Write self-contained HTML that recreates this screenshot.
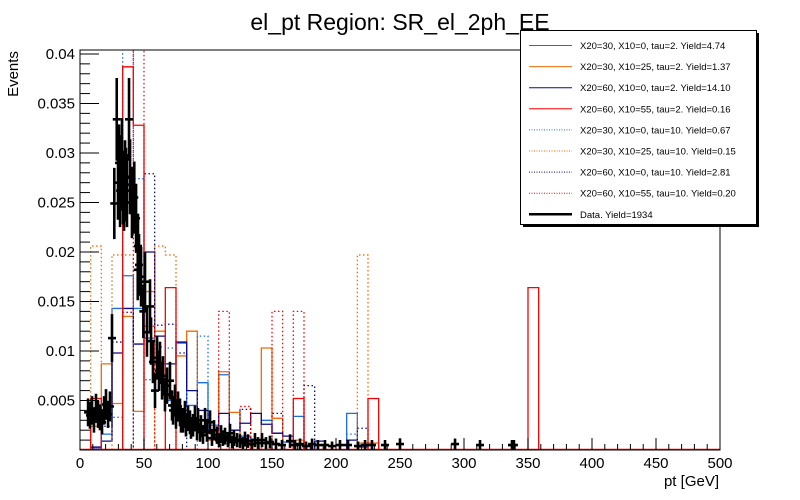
<!DOCTYPE html>
<html><head><meta charset="utf-8"><style>
html,body{margin:0;padding:0;background:#fff;}
svg{display:block;font-family:"Liberation Sans",sans-serif;}
</style></head><body>
<svg id="chart" width="800" height="500" viewBox="0 0 800 500" xmlns="http://www.w3.org/2000/svg">
<rect x="0" y="0" width="800" height="500" fill="#fff"/>
<text x="400" y="30" font-size="23" text-anchor="middle">el_pt Region: SR_el_2ph_EE</text>
<text transform="translate(18,74) rotate(-90)" font-size="15" text-anchor="middle">Events</text>
<text x="719" y="486" font-size="15" text-anchor="end">pt [GeV]</text>
<g id="hists"></g>
<g id="data"></g>
<g id="axes"></g>
<g id="legend"></g>
</svg>
<script>
// bins: 60 bins of 500/60 GeV; arrays list the first 43 bins (rest zero)
const binWidth = 500/60;
const lightBlueTau2 = [0,.0002,.0016,.0143,.0176,.0143,.0113,.0087,.0050,.0108,.0045,.0068,.0025,.0076,.0010,.0014,.0010,.0030,.0017,.0008,.0034,0,.0005,0,0,.0037,.0005,0,0,0,0,0,0,0,0,0,0,0,0,0,0,0,0];
const orangeTau2 = [0,.0024,.0087,.0047,.0135,.0039,.0160,.0120,.0054,.0095,.0120,.0030,.0010,.0079,.0038,.0010,0,.0103,.0032,0,.0010,0,0,0,0,0,.0007,.0007,0,0,0,0,0,0,0,0,0,0,0,0,0,0,0];
const navyTau2 = [0,.0003,.0009,.0098,.0143,.0107,.0200,.0115,.0087,.0109,.0060,.0040,.0020,.0037,.0020,.0027,.0037,.0026,.0017,.0014,.0005,0,.0009,0,0,.0010,.0003,0,0,0,0,0,0,0,0,0,0,0,0,0,0,0,0];
const redTau2 = [0,.0052,0,0,.0387,.0328,0,0,.0164,0,0,0,0,0,0,0,0,0,0,0,.0052,0,0,0,0,0,0,.0052,0,0,0,0,0,0,0,0,0,0,0,0,0,0,.0164];
const lightBlueTau10 = [0,0,.0034,.0033,.0450,.0274,.0071,.0104,.0103,0,0,.0115,0,.0010,0,0,0,0,0,0,0,0,0,0,0,.0016,0,0,0,0,0,0,0,0,0,0,0,0,0,0,0,0,0];
const orangeTau10 = [0,.0206,0,.0197,.0197,0,0,.0206,.0197,0,0,0,0,0,0,0,0,0,0,0,0,0,0,0,0,0,.0197,0,0,0,0,0,0,0,0,0,0,0,0,0,0,0,0];
const navyTau10 = [0,0,.0024,.0109,.0139,0,.0279,.0126,.0127,.0098,0,0,0,0,0,.0041,0,0,.0037,0,0,.0065,0,0,0,0,.0022,0,0,0,0,0,0,0,0,0,0,0,0,0,0,0,0];
const redTau10 = [0,0,0,0,.0139,.0450,.0125,0,0,0,0,0,0,.0140,0,.0044,0,0,.0140,0,.0140,0,0,0,0,0,0,0,0,0,0,0,0,0,0,0,0,0,0];
const legendLabels = ["X20=30, X10=0, tau=2. Yield=4.74","X20=30, X10=25, tau=2. Yield=1.37","X20=60, X10=0, tau=2. Yield=14.10","X20=60, X10=55, tau=2. Yield=0.16","X20=30, X10=0, tau=10. Yield=0.67","X20=30, X10=25, tau=10. Yield=0.15","X20=60, X10=0, tau=10. Yield=2.81","X20=60, X10=55, tau=10. Yield=0.20","Data. Yield=1934"];
const dataX = [6.3,7.8,9.4,10.9,12.5,14.1,15.6,17.2,18.8,20.3,21.9,23.4,25,26.8,28.7,29.7,30.5,31.3,32,32.8,33.6,34.4,35.2,35.9,36.7,38.3,39.1,40.6,42.4,43.8,45.3,46.1,45.1,47.7,49.5,50.8,52.3,54.7,55.5,57,58.6,60.2,61.7,62.5,64.1,64.8,66.4,68,70.3,71.9,72.7,74.2,75,76.6,78.1,78.9,80.5,82,82.8,84.4,85.9,86.7,88.3,89.8,91.4,92.2,93.8,94.5,96.1,97.7,99.2,101.6,103.1,104.7,107,108.6,110.2,111.7,113.3,115.6,117.2,118.8,120.3,122.7,125,127.3,128.9,131.3,134.4,136.7,139.1,142.2,145.3,148.4,153.1,157.8,164.1,168,171.9,176.6,181.3,185.9,191.4,196.9,203.1,209.4,217.2,222.7,228.1,238.3,250,293,312.5,337.5,339];
const dataY = [.0038,.0035,.0040,.0030,.0042,.0036,.0033,.0028,.0040,.0046,.0036,.0044,.0113,.0249,.0334,.0270,.0290,.0262,.0280,.0296,.0265,.0258,.0275,.0268,.0262,.0334,.0276,.0250,.0255,.0234,.0206,.0187,.0182,.0175,.0140,.0170,.0119,.0145,.0110,.0089,.0060,.0093,.0080,.0088,.0070,.0075,.0056,.0065,.0070,.0045,.0040,.0050,.0035,.0044,.0038,.0030,.0030,.0036,.0025,.0032,.0028,.0022,.0025,.0032,.0020,.0030,.0018,.0024,.0015,.0030,.0018,.0028,.0012,.0020,.0015,.0010,.0016,.0012,.0014,.0010,.0017,.0008,.0012,.0010,.0009,.0007,.0011,.0009,.0006,.0010,.0007,.0010,.0007,.0008,.0006,.0005,.0009,.0005,.0006,.0004,.0006,.0005,.0005,.0004,.0005,.0005,.0004,.0005,.0005,.0005,.0006,.0006,.0005,.0005,.0005];
const yTicks = [0.005,0.01,0.015,0.02,0.025,0.03,0.035,0.04];
const yTickLabels = ["0.005","0.01","0.015","0.02","0.025","0.03","0.035","0.04"];
const xTicks = [0,50,100,150,200,250,300,350,400,450,500];

const L=80,R=720,T=50,B=450, YMAX=0.0404;
const sx = v => L + (v/500)*(R-L);
const sy = v => B - (v/YMAX)*(B-T);
const NS="http://www.w3.org/2000/svg";
function mk(tag, attrs, parent){const e=document.createElementNS(NS,tag);for(const k in attrs)e.setAttribute(k,attrs[k]);parent.appendChild(e);return e;}

const series = [
 {vals:lightBlueTau2,color:"#1a6fe6",dash:null,name:"hist-x20-30-x10-0-tau2"},
 {vals:orangeTau2,color:"#f26b06",dash:null,name:"hist-x20-30-x10-25-tau2"},
 {vals:navyTau2,color:"#0a0a8a",dash:null,name:"hist-x20-60-x10-0-tau2"},
 {vals:lightBlueTau10,color:"#1a6fe6",dash:"1.5,2.5",name:"hist-x20-30-x10-0-tau10"},
 {vals:orangeTau10,color:"#f26b06",dash:"1.5,2.5",name:"hist-x20-30-x10-25-tau10"},
 {vals:navyTau10,color:"#0a0a8a",dash:"1.5,2.5",name:"hist-x20-60-x10-0-tau10"},
 {vals:redTau10,color:"#ff0000",dash:"1.5,2.5",name:"hist-x20-60-x10-55-tau10"},
 {vals:redTau2,color:"#ff0000",dash:null,name:"hist-x20-60-x10-55-tau2"}
];
const hg=document.getElementById('hists');
const clip=mk('clipPath',{id:'plotclip'},hg);
mk('rect',{x:L,y:T,width:R-L,height:B-T},clip);
series.forEach(s=>{
  let d="M"+sx(0)+","+sy(0);
  for(let i=0;i<60;i++){
    const v=s.vals[i]||0;
    d+=" L"+sx(i*binWidth).toFixed(2)+","+sy(v).toFixed(2)+" L"+sx((i+1)*binWidth).toFixed(2)+","+sy(v).toFixed(2);
  }
  d+=" L"+sx(500)+","+sy(0);
  const p=mk('path',{d:d,fill:"none",stroke:s.color,"stroke-width":1.3,"clip-path":"url(#plotclip)"},hg);
  if(s.dash)p.setAttribute('stroke-dasharray',s.dash);
  
  
});
mk('line',{x1:L,y1:B-0.5,x2:R,y2:B-0.5,stroke:"#ff0000","stroke-width":1.5},hg);

const dg=document.getElementById('data');
for(let i=0;i<dataX.length;i++){
  const x=sx(dataX[i]), y=sy(dataY[i]), e=Math.sqrt(dataY[i]*0.00052)*(B-T)/YMAX;
  const g=mk('g',{},dg);
  
  
  mk('line',{x1:x,y1:Math.max(T,y-e),x2:x,y2:Math.min(B,y+e),stroke:"#000","stroke-width":2.6},g);
  mk('line',{x1:x-4,y1:y,x2:x+4,y2:y,stroke:"#000","stroke-width":2.6},g);
}

const ag=document.getElementById('axes');
const frame=mk('rect',{x:L,y:T,width:R-L,height:B-T,fill:"none",stroke:"#000","stroke-width":1},ag);


for(let k=1;k<=40;k++){
  const v=k*0.001, y=sy(v); if(y<T)break;
  const major=(k%5===0);
  mk('line',{x1:L,y1:y,x2:L+(major?19:10),y2:y,stroke:"#000","stroke-width":1},ag);
}
yTicks.forEach((v,i)=>{
  const t=mk('text',{x:L-5,y:sy(v)+5,"font-size":15,"text-anchor":"end"},ag);
  t.textContent=yTickLabels[i];
  
  
});
for(let v=10;v<500;v+=10){
  const major=(v%50===0);
  mk('line',{x1:sx(v),y1:B,x2:sx(v),y2:B-(major?12:6),stroke:"#000","stroke-width":1},ag);
}
xTicks.forEach(v=>{
  const t=mk('text',{x:sx(v),y:468,"font-size":15,"text-anchor":"middle"},ag);
  t.textContent=String(v);
  
  
});

const lg=document.getElementById('legend');
mk('rect',{x:523,y:33,width:236,height:194,fill:"#000"},lg);
const box=mk('rect',{x:520.5,y:30.5,width:236,height:194,fill:"#fff",stroke:"#000","stroke-width":1},lg);


const legStyles=[["#1a6fe6",null,1],["#f26b06",null,1],["#0a0a8a",null,1],["#ff0000",null,1],["#1a6fe6","1,1.5",1],["#f26b06","1,1.5",1],["#0a0a8a","1,1.5",1],["#ff0000","1,1.5",1],["#000",null,2.5]];
legendLabels.forEach((lab,i)=>{
  const y=45.5+i*21.1;
  const g=mk('g',{},lg);
  
  
  const ln=mk('line',{x1:529,y1:y,x2:572,y2:y,stroke:legStyles[i][0],"stroke-width":legStyles[i][2]},g);
  if(legStyles[i][1])ln.setAttribute('stroke-dasharray',legStyles[i][1]);
  const t=mk('text',{x:580,y:y+3.5,"font-size":9.5},g);
  t.textContent=lab;
});
</script>
</body></html>
